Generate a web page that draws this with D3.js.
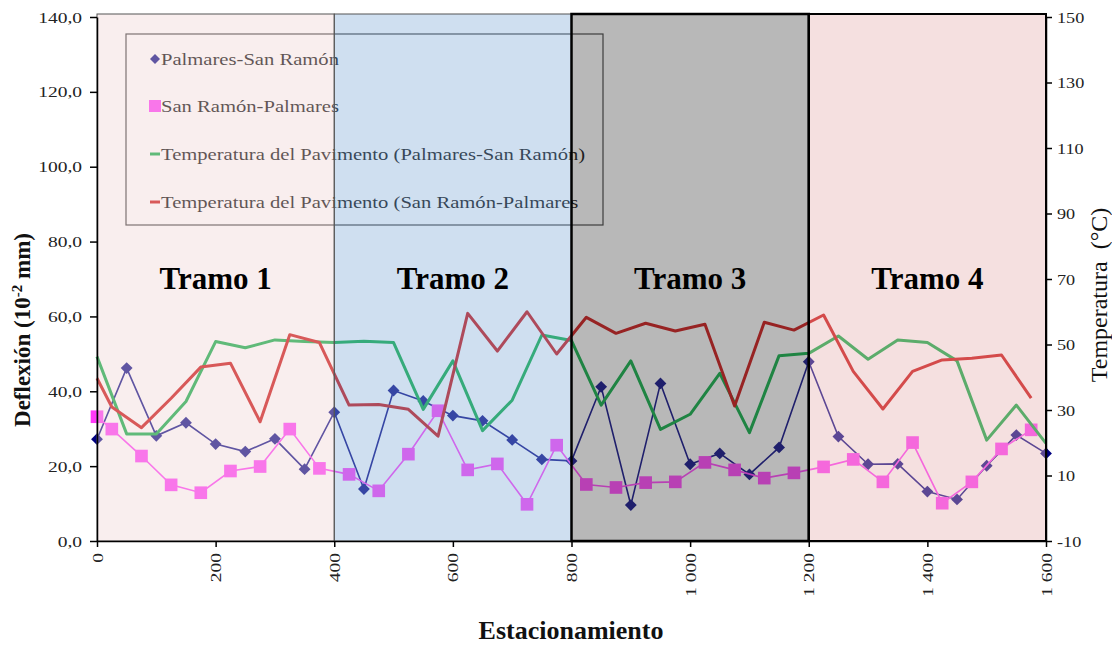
<!DOCTYPE html>
<html><head><meta charset="utf-8">
<script src="https://cdn.jsdelivr.net/npm/d3@7"></script>
<style>html,body{margin:0;padding:0;background:#fff;} svg{display:block;}</style>
</head><body><svg id="c" width="1112" height="647"></svg>
<script>
// ---------- data ----------
const stationsA = [0,50,100,150,200,250,300,350,400,450,500,550,600,650,700,750,800,850,900,950,1000,1050,1100,1150,1200,1250,1300,1350,1400,1450,1500,1550,1600];
const deflPS = [27.2,46.2,28.1,31.6,25.9,23.9,27.3,19.2,34.4,13.9,40.2,37.4,33.5,32.1,27.0,21.8,21.4,41.2,9.6,42.1,20.5,23.4,17.8,25.0,47.9,27.9,20.5,20.6,13.2,11.1,20.1,28.3,23.4];
const tempPS = [46.3,22.7,22.7,32.6,50.9,49.0,51.4,50.9,50.6,51.0,50.6,30.2,45.0,23.7,33.0,52.9,51.2,31.5,45.0,24.1,28.7,41.2,23.1,46.6,47.3,52.6,45.5,51.4,50.6,45.0,20.8,31.5,19.8];
const stationsB = [0,25,75,125,175,225,275,325,375,425,475,525,575,625,675,725,775,825,875,925,975,1025,1075,1125,1175,1225,1275,1325,1375,1425,1475,1525,1575];
const deflSP = [33.2,29.9,22.7,15.0,12.9,18.7,19.9,29.9,19.4,17.8,13.4,23.2,34.8,19.0,20.6,9.8,25.6,15.1,14.3,15.6,15.8,21.0,19.0,16.8,18.2,19.8,21.8,15.8,26.3,10.1,15.8,24.6,29.7];
const tempSP = [39.7,30.9,24.6,33.6,43.1,44.3,26.4,53.0,50.6,31.5,31.7,30.2,22.0,59.5,48.0,60.0,47.1,58.3,53.4,56.5,54.1,56.2,31.2,56.8,54.4,59.0,41.8,30.3,41.8,45.3,45.8,46.8,33.6];
const leftTicks = [0,20,40,60,80,100,120,140];
const rightTicks = [-10,10,30,50,70,90,110,130,150];
const xTicks = [0,200,400,600,800,1000,1200,1400,1600];
const tramoEdges = [0,400,800,1200,1600];
const tramoNames = ["Tramo 1","Tramo 2","Tramo 3","Tramo 4"];
const seriesNames = ["Palmares-San Ramón","San Ramón-Palmares","Temperatura del Pavimento (Palmares-San Ramón)","Temperatura del Pavimento (San Ramón-Palmares"];

// ---------- styles ----------
const C = {diam:"#000080", sq:"#ff38f8", green:"#00a83c", red:"#c80808"};
const tramoFill = ["#f0d4d4","#87afd9","#4d4d4d","#e6b1b1"];
const tramoStroke = ["#555","#555","#000","#000"];
const tramoStrokeW = [1,1,2.5,2];
const FONT = "'Liberation Serif','Times New Roman',serif";

const svg = d3.select("#c");
const M = {l:97, r:1046, t:17, b:541};
const x = d3.scaleLinear().domain([0,1600]).range([M.l, M.r]);
const yL = d3.scaleLinear().domain([0,140]).range([M.b, M.t]);
const yR = d3.scaleLinear().domain([-10,150]).range([M.b, M.t]);

// ---------- legend (under overlays) ----------
const lg = svg.append("g").attr("transform","translate(126,34)");
lg.append("rect").attr("width",477).attr("height",191).attr("fill","none").attr("stroke","#333").attr("stroke-width",1.2);
const rowY = [25,72,120,168];
seriesNames.forEach((n,i)=>{
  const g = lg.append("g").attr("transform",`translate(0,${rowY[i]})`);
  if(i===0) g.append("path").attr("d",d3.symbol(d3.symbolSquare,50)()).attr("transform","translate(29,0) rotate(45)").attr("fill",C.diam);
  if(i===1) g.append("rect").attr("x",23).attr("y",-6).attr("width",12).attr("height",12).attr("fill",C.sq);
  if(i===2) g.append("line").attr("x1",24).attr("x2",34).attr("stroke",C.green).attr("stroke-width",3);
  if(i===3) g.append("line").attr("x1",24).attr("x2",34).attr("stroke",C.red).attr("stroke-width",3);
  g.append("text").attr("transform",`translate(35,6) scale(1.25,1)`).attr("font-family",FONT).attr("font-size",16.5).attr("fill","#000").text(n);
});

// ---------- series ----------
const ptsA = stationsA.map((s,i)=>({s, d:deflPS[i], t:tempPS[i]}));
const ptsB = stationsB.map((s,i)=>({s, d:deflSP[i], t:tempSP[i]}));

svg.append("path").datum(ptsA).attr("fill","none").attr("stroke",C.diam).attr("stroke-width",1.6)
  .attr("d", d3.line().x(p=>x(p.s)).y(p=>yL(p.d)));
svg.append("g").selectAll("path").data(ptsA).join("path")
  .attr("d", d3.symbol(d3.symbolSquare,70)())
  .attr("transform", p=>`translate(${x(p.s)},${yL(p.d)}) rotate(45)`).attr("fill",C.diam);

svg.append("path").datum(ptsB).attr("fill","none").attr("stroke",C.sq).attr("stroke-width",1.6)
  .attr("d", d3.line().x(p=>x(p.s)).y(p=>yL(p.d)));
svg.append("g").selectAll("path").data(ptsB).join("path")
  .attr("d", d3.symbol(d3.symbolSquare,160)())
  .attr("transform", p=>`translate(${x(p.s)},${yL(p.d)})`).attr("fill",C.sq);

svg.append("path").datum(ptsA).attr("fill","none").attr("stroke",C.green).attr("stroke-width",3).attr("stroke-linejoin","round")
  .attr("d", d3.line().x(p=>x(p.s)).y(p=>yR(p.t)));
svg.append("path").datum(ptsB).attr("fill","none").attr("stroke",C.red).attr("stroke-width",3).attr("stroke-linejoin","round")
  .attr("d", d3.line().x(p=>x(p.s)).y(p=>yR(p.t)));

// ---------- tramo overlays ----------
const topY = yL(140) - 3;
const ov = svg.append("g");
tramoNames.forEach((n,i)=>{
  ov.append("rect").attr("x",x(tramoEdges[i])).attr("y",topY)
    .attr("width",x(tramoEdges[i+1])-x(tramoEdges[i])).attr("height",M.b-topY)
    .attr("fill",tramoFill[i]).attr("fill-opacity",0.4);
});
tramoNames.forEach((n,i)=>{
  ov.append("rect").attr("x",x(tramoEdges[i])).attr("y",topY)
    .attr("width",x(tramoEdges[i+1])-x(tramoEdges[i])).attr("height",M.b-topY)
    .attr("fill","none").attr("stroke",tramoStroke[i]).attr("stroke-width",tramoStrokeW[i]);
});
tramoNames.forEach((n,i)=>{
  svg.append("text").attr("x",(x(tramoEdges[i])+x(tramoEdges[i+1]))/2).attr("y",yL(70)+10)
    .attr("text-anchor","middle").attr("font-family",FONT).attr("font-weight","bold").attr("font-size",31).attr("fill","#000").text(n);
});

// ---------- axes ----------
const fmtL = v => d3.format(".1f")(v).replace(".",",");
const loc = d3.formatLocale({decimal:",", thousands:" ", grouping:[3], currency:["",""]});
const fmtX = loc.format(",");

const axL = svg.append("g").attr("transform",`translate(${M.l},0)`)
  .call(d3.axisLeft(yL).tickValues(leftTicks).tickSize(7).tickSizeOuter(0).tickFormat(fmtL));
axL.selectAll("text").remove();
axL.selectAll(".tick").append("text").attr("transform","translate(-15,5) scale(1.3,1)").attr("text-anchor","end")
  .attr("font-family",FONT).attr("font-size",15).attr("fill","#222").text(d=>fmtL(d));

const axR = svg.append("g").attr("transform",`translate(${M.r},0)`)
  .call(d3.axisRight(yR).tickValues(rightTicks).tickSize(6).tickSizeOuter(0));
axR.selectAll("text").remove();
axR.selectAll(".tick").append("text").attr("transform","translate(11,5) scale(1.3,1)").attr("text-anchor","start")
  .attr("font-family",FONT).attr("font-size",14).attr("fill","#222").text(d=>d);

const axB = svg.append("g").attr("transform",`translate(0,${M.b})`)
  .call(d3.axisBottom(x).tickValues(xTicks).tickSize(6).tickSizeOuter(0));
axB.selectAll("text").remove();
axB.selectAll(".tick").append("text").attr("transform","translate(5,12) rotate(-90) scale(1.3,1)").attr("text-anchor","end")
  .attr("font-family",FONT).attr("font-size",15).attr("fill","#222").text(d=>fmtX(d));

[axL,axR,axB].forEach(a=>{a.selectAll("path,line").attr("stroke","#000").attr("stroke-width",1.5);});

// ---------- titles ----------
const tl = svg.append("text").attr("transform","translate(30,330) rotate(-90)").attr("text-anchor","middle")
  .attr("font-family",FONT).attr("font-weight","bold").attr("font-size",23).attr("fill","#111");
tl.append("tspan").text("Deflexión (10");
tl.append("tspan").attr("dy",-8).attr("font-size",15).text("-2");
tl.append("tspan").attr("dy",8).text(" mm)");

svg.append("text").attr("transform","translate(1107,295) rotate(-90)").attr("text-anchor","middle")
  .attr("font-family",FONT).attr("font-size",24).attr("fill","#111").attr("xml:space","preserve").text("Temperatura  (°C)");

svg.append("text").attr("x",571).attr("y",639).attr("text-anchor","middle")
  .attr("font-family",FONT).attr("font-weight","bold").attr("font-size",26).attr("fill","#111").text("Estacionamiento");
</script></body></html>
